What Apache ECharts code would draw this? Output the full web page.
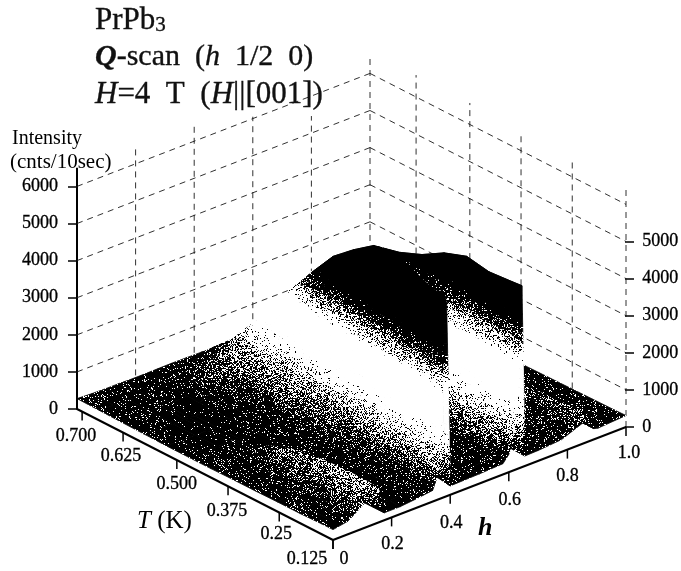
<!DOCTYPE html>
<html><head><meta charset="utf-8">
<style>html,body{margin:0;padding:0;background:#fff}#c{width:681px;height:571px}</style>
<script src="https://cdn.jsdelivr.net/npm/echarts@6/dist/echarts.min.js"></script>
</head><body><div id="c"></div>
<script>
// ---- data ----
const hGrid = [0,.05,.10,.14,.155,.175,.23,.28,.34,.355,.365,.372,.38,.388,.40,.50,.58,.60,.615,.63,.645,.655,.70,.78,.85,.87,.89,.905,1.0];
const tRows = [.125,.151,.202,.254,.309,.363,.418,.472,.525,.577,.631,.669,.7125];
const ridgeDrift = [0,.0035,.0107,.018,.025,.032,.039,.046,.053,.061,.068,.075,.082];
const driftWeight = [0,0,0,0,0,0,0,.5,1,1,1,1,1,1,1,.5,0,0,0,0,0,0,0,0,0,0,0,0,0];
const I_T0125 = [280,350,620,900,930,200,200,240,300,600,1100,2300,5500,5200,240,260,290,480,850,2000,4890,270,280,330,550,730,290,260,310];
const I_T0151 = [280,380,640,920,950,200,200,240,380,700,1300,2600,5400,5000,260,260,290,490,900,2100,4860,280,280,330,550,720,290,260,300];
const I_T0202 = [260,380,640,920,960,200,200,250,470,800,1500,2900,5600,5200,280,260,300,490,900,2200,4810,280,270,320,520,690,280,260,290];
const I_T0254 = [260,360,600,880,920,200,200,250,520,900,1600,3000,5800,5400,300,260,290,480,900,2200,4920,270,260,300,500,650,270,250,280];
const I_T0309 = [250,340,540,800,840,200,200,260,580,950,1700,3000,5630,5300,320,260,290,470,880,2100,4700,270,260,290,470,620,260,250,270];
const I_T0363 = [250,300,440,640,660,200,200,270,660,1000,1700,2800,5190,4800,320,260,280,450,850,2000,4350,260,250,280,440,590,260,240,260];
const I_T0418 = [240,260,290,380,400,200,200,290,720,1100,1700,2600,4680,4300,320,250,270,430,800,1900,4100,260,250,270,400,560,250,240,250];
const I_T0472 = [240,230,220,220,220,200,210,310,800,1200,1700,2400,3950,3600,320,250,270,400,750,1700,3950,260,240,260,340,450,250,230,240];
const I_T0525 = [240,230,220,220,220,200,210,320,950,1300,1700,2200,3190,2900,310,250,260,380,700,1500,3500,250,240,250,300,350,240,230,240];
const I_T0577 = [250,230,220,220,220,200,220,420,1000,1250,1500,1900,2380,2200,300,250,260,360,650,1300,3000,250,240,240,260,280,230,230,240];
const I_T0631 = [260,240,230,230,230,210,240,680,1000,1150,1250,1400,1510,1400,290,250,260,340,550,1000,2300,250,240,240,250,260,230,230,240];
const I_T0669 = [270,250,240,240,240,230,250,450,600,650,700,750,800,750,280,250,260,300,400,650,1100,250,240,240,240,250,230,230,240];
const I_T0712 = [280,260,250,250,250,240,240,250,240,230,230,220,200,220,240,250,250,260,270,280,300,250,240,240,240,240,230,230,240];
const surface = [I_T0125,I_T0151,I_T0202,I_T0254,I_T0309,I_T0363,I_T0418,I_T0472,I_T0525,I_T0577,I_T0631,I_T0669,I_T0712];
const tTicks = [.125,.25,.375,.5,.625,.7];
const tTickLabels = ['0.125','0.25','0.375','0.500','0.625','0.700'];
const hTicks = [0,.2,.4,.6,.8,1.0];
const hTickLabels = ['0','0.2','0.4','0.6','0.8','1.0'];
const leftWallTops = [6430,6400,6050,5460,6500];
const rightWallTops = [6490,6490,6490,6580,6590];

// ---- projection of the 3D box (layout) ----
const KNOT_T=[.125,.25,.375,.5,.625,.7,.7125], KNOT_F=[0,.21,.41,.61,.82,.98,1];
const ORIGIN=[333,540], H_VEC=[293,-113], T_VEC=[-256,-131], K=.0371, TMAX=.7125;
function fOfT(T){for(let i=0;i<KNOT_T.length-1;i++){if(T<=KNOT_T[i+1]){const a=(T-KNOT_T[i])/(KNOT_T[i+1]-KNOT_T[i]);return KNOT_F[i]+a*(KNOT_F[i+1]-KNOT_F[i]);}}return 1;}
function proj(h,T,I){const f=fOfT(T);return [ORIGIN[0]+H_VEC[0]*h+T_VEC[0]*f,ORIGIN[1]+H_VEC[1]*h+T_VEC[1]*f-K*I];}

// ---- stipple shading: black share against height ----
const STOPS=[[0,.96],[300,.93],[500,.84],[900,.5],[1150,.28],[1500,.06],[1800,.01],[2900,.01],[3300,.35],[3650,.85],[4000,1]];
function blackShare(I){if(I<=0)return STOPS[0][1];for(let i=0;i<STOPS.length-1;i++){if(I<=STOPS[i+1][0]){const a=(I-STOPS[i][0])/(STOPS[i+1][0]-STOPS[i][0]);return STOPS[i][1]+a*(STOPS[i+1][1]-STOPS[i][1]);}}return 1;}
const LEVELS=24,SZ=211,patterns=[];
function cellHash(x,y){const s=Math.sin(x*12.9898+y*78.233)*43758.5453;return s-Math.floor(s);}
for(let l=0;l<=LEVELS;l++){
  const cv=document.createElement('canvas');cv.width=cv.height=SZ;
  const g=cv.getContext('2d'),im=g.createImageData(SZ,SZ);
  for(let y=0;y<SZ;y++)for(let x=0;x<SZ;x++){
    const b=cellHash(x,y)<l/LEVELS?0:255,i=(y*SZ+x)*4;
    im.data[i]=im.data[i+1]=im.data[i+2]=b;im.data[i+3]=255;}
  g.putImageData(im,0,0);
  patterns.push({image:cv,repeat:'repeat'});
}
const patFor=I=>patterns[Math.round(blackShare(I)*LEVELS)];

// ---- marks ----
const hAt=(r,c)=>hGrid[c]+ridgeDrift[r]*driftWeight[c];
function lerp(a,b,t){return a+(b-a)*t;}
const surfaceCells=[];
for(let r=tRows.length-2;r>=0;r--)for(let c=hGrid.length-2;c>=0;c--)surfaceCells.push([c,r]);

function renderSurface(params,api){
  const c=api.value(0),r=api.value(1);
  const i00=surface[r][c],i01=surface[r][c+1],i10=surface[r+1][c],i11=surface[r+1][c+1];
  const nH=Math.max(1,Math.min(18,Math.ceil(Math.max(Math.abs(i01-i00),Math.abs(i11-i10))/110)));
  const nT=Math.max(1,Math.min(5,Math.ceil(Math.max(Math.abs(i10-i00),Math.abs(i11-i01))/160)));
  const pt=(u,v)=>{
    const h0=lerp(hAt(r,c),hAt(r,c+1),u),h1=lerp(hAt(r+1,c),hAt(r+1,c+1),u);
    const I=lerp(lerp(i00,i01,u),lerp(i10,i11,u),v);
    const T=lerp(tRows[r],tRows[r+1],v);
    return {p:api.coord(proj(lerp(h0,h1,v),T,I)),I};
  };
  const children=[];
  for(let b=nT-1;b>=0;b--)for(let a=nH-1;a>=0;a--){
    const A=pt(a/nH,b/nT),B=pt((a+1)/nH,b/nT),C=pt((a+1)/nH,(b+1)/nT),D=pt(a/nH,(b+1)/nT);
    const pat=patFor((A.I+B.I+C.I+D.I)/4);
    children.push({type:'polygon',shape:{points:[A.p,B.p,C.p,D.p]},style:{fill:pat,stroke:pat,lineWidth:.8},silent:true});
  }
  return {type:'group',children};
}

// wall grid: level lines, verticals
const levels=[1000,2000,3000,4000,5000,6000];
const wallItems=[];
levels.forEach(v=>{wallItems.push([0,v,0]);wallItems.push([1,v,0]);});
hTicks.slice(1).forEach((h,i)=>wallItems.push([2,h,leftWallTops[i]]));
tTicks.slice(0,5).forEach((t,i)=>wallItems.push([3,t,rightWallTops[i]]));
function renderWalls(params,api){
  const kind=api.value(0),a=api.value(1),top=api.value(2);
  let p,q;
  if(kind===0){p=proj(0,TMAX,a);q=proj(1,TMAX,a);}
  else if(kind===1){p=proj(1,TMAX,a);q=proj(1,.125,a);}
  else if(kind===2){p=proj(a,TMAX,0);q=proj(a,TMAX,top);}
  else {p=proj(1,a,0);q=proj(1,a,top);}
  const P=api.coord(p),Q=api.coord(q);
  return {type:'line',shape:{x1:P[0],y1:P[1],x2:Q[0],y2:Q[1]},style:{stroke:'#1a1a1a',lineWidth:.9,lineDash:[6,5],fill:null},silent:true};
}

// floor edges, ticks, labels
const T_LABEL_OFF=[[-26,19],[-3,22],[-1,25],[0,24],[-2,24],[-6,25]];
const H_LABEL_OFF=[[11,19],[1,27],[1,28],[1,28],[0,27],[3,26]];
const floorItems=[[0,0,0],[1,0,0],[2,0,0]];
tTicks.forEach((t,i)=>floorItems.push([3,t,i]));
hTicks.forEach((h,i)=>floorItems.push([4,h,i]));
function renderFloor(params,api){
  const kind=api.value(0);
  const seg=(p,q,w)=>{const P=api.coord(p),Q=api.coord(q);return {type:'line',shape:{x1:P[0],y1:P[1],x2:Q[0],y2:Q[1]},style:{stroke:'#000',lineWidth:w,fill:null},silent:true};};
  if(kind===0)return seg(proj(0,TMAX,0),proj(0,.125,0),2);
  if(kind===1)return seg(proj(0,.125,0),proj(1,.125,0),2);
  if(kind===2)return seg(proj(0,TMAX,6000),proj(0,TMAX,6500),2);
  const v=api.value(1),i=api.value(2);
  const base=kind===3?proj(0,v,0):proj(v,.125,0);
  const P=api.coord(base);
  const off=kind===3?T_LABEL_OFF[i]:H_LABEL_OFF[i];
  const label=kind===3?tTickLabels[i]:hTickLabels[i];
  return {type:'group',children:[
    {type:'line',shape:{x1:P[0],y1:P[1],x2:P[0],y2:P[1]+9},style:{stroke:'#000',lineWidth:1.5,fill:null},silent:true},
    {type:'text',x:P[0]+off[0],y:P[1]+off[1],style:{text:label,font:'18px "Liberation Serif"',fill:'#000',stroke:'#000',lineWidth:.3,align:'center',verticalAlign:'middle'},silent:true}
  ]};
}

const tick={show:true,length:9,lineStyle:{color:'#000',width:1.5}};
const plain=v=>String(v);
const lbl={color:'#000',fontFamily:'Liberation Serif',fontSize:18,margin:19,formatter:plain,textBorderColor:'#000',textBorderWidth:.3};
const hiddenX=i=>({type:'value',gridIndex:i,show:false,min:0,max:1});
const tx={fontFamily:'Liberation Serif',fontSize:30,color:'#111',fontWeight:'normal',textBorderColor:'#111',textBorderWidth:.35};
const option={
  animation:false,backgroundColor:'#fff',
  title:[
    {left:95,top:5,padding:0,text:'{a|PrPb}{b|3}',textStyle:{fontWeight:'normal',rich:{a:{...tx,fontSize:31},b:{...tx,fontSize:21,verticalAlign:'bottom',padding:[8,0,0,0]}}}},
    {left:95,top:42,padding:0,text:'{q|Q}{a|-scan  (}{i|h}{a|  1/2  0)}',textStyle:{fontWeight:'normal',rich:{q:{...tx,fontStyle:'italic',fontWeight:'bold'},a:tx,i:{...tx,fontStyle:'italic'}}}},
    {left:95,top:79,padding:0,text:'{i|H}{a|=4  T  (}{i|H}{a|||[001])}',textStyle:{fontWeight:'normal',rich:{a:{...tx,fontSize:31},i:{...tx,fontSize:31,fontStyle:'italic'}}}}
  ],
  graphic:[
    {type:'text',left:12,top:129,style:{text:'Intensity',font:'20px "Liberation Serif"',fill:'#000'}},
    {type:'text',left:10,top:152,style:{text:'(cnts/10sec)',font:'21px "Liberation Serif"',fill:'#000'}},
    {type:'text',left:137,top:509,style:{rich:{i:{font:'italic 25px "Liberation Serif"',fill:'#000'},a:{font:'25px "Liberation Serif"',fill:'#000'}},text:'{i|T}{a| (K)}'}},
    {type:'text',left:478,top:515,style:{text:'h',font:'italic bold 26px "Liberation Serif"',fill:'#000'}}
  ],
  grid:[
    {left:0,top:0,width:681,height:571,containLabel:false},
    {left:77,top:409-K*6000,width:1,height:K*6000},
    {left:625,top:427-K*5000,width:1,height:K*5000}
  ],
  xAxis:[{type:'value',gridIndex:0,show:false,min:0,max:681},hiddenX(1),hiddenX(2)],
  yAxis:[
    {type:'value',gridIndex:0,show:false,min:0,max:571,inverse:true},
    {type:'value',gridIndex:1,position:'left',min:0,max:6000,interval:1000,
      axisLine:{show:true,lineStyle:{color:'#000',width:2}},axisTick:tick,axisLabel:lbl,splitLine:{show:false}},
    {type:'value',gridIndex:2,position:'right',min:0,max:5000,interval:1000,
      axisLine:{show:false},axisTick:tick,axisLabel:{...lbl,margin:17},splitLine:{show:false}}
  ],
  series:[
    {type:'custom',xAxisIndex:0,yAxisIndex:0,silent:true,clip:false,z:1,data:wallItems,renderItem:renderWalls,progressive:0},
    {type:'custom',xAxisIndex:0,yAxisIndex:0,silent:true,clip:false,z:2,data:surfaceCells,renderItem:renderSurface,progressive:0},
    {type:'custom',xAxisIndex:0,yAxisIndex:0,silent:true,clip:false,z:3,data:floorItems,renderItem:renderFloor,progressive:0}
  ]
};
const chart=echarts.init(document.getElementById('c'),null,{renderer:'canvas'});
chart.setOption(option);
</script></body></html>
